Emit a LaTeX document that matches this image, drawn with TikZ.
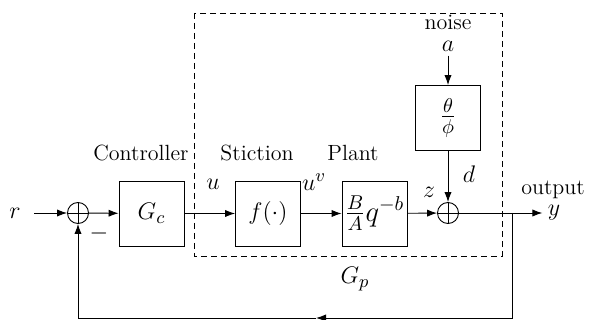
\documentclass[tikz,border=0pt]{standalone}
\usetikzlibrary{arrows.meta}
\begin{document}
\begin{tikzpicture}[x=0.5pt,y=-0.5pt,
  line width=0.45pt,
  arr/.style={-{Latex[length=5pt,width=3.6pt]}},
  blk/.style={draw, minimum width=32.5pt, minimum height=32.5pt, inner sep=0pt, font=\fontsize{12.5}{14}\selectfont},
  fblk/.style={blk, font=\fontsize{14}{16}\selectfont},
  sumnode/.style={circle, draw, minimum size=10.5pt, inner sep=0pt,
    path picture={\draw (path picture bounding box.north) -- (path picture bounding box.south)
      (path picture bounding box.west) -- (path picture bounding box.east);}},
  lbl/.style={inner sep=0pt, font=\fontsize{11}{13}\selectfont},
  mlbl/.style={inner sep=0pt, font=\fontsize{13}{15}\selectfont}]
\useasboundingbox (0,0) rectangle (594,320);
% dashed plant region
\draw[dashed, dash pattern=on 3pt off 2pt] (194,13) rectangle (502,256);
% nodes
\node[mlbl] (r) at (15,213) {$r$};
\node[sumnode] (s1) at (78,213) {};
\node[blk] (gc) at (151.5,213.5) {$G_c$};
\node[blk] (f) at (268,213.5) {$f(\cdot)$};
\node[fblk] (p) at (374.5,213.5) {$\frac{B}{A}q^{-b}$};
\node[sumnode] (s2) at (448,213) {};
\node[fblk] (n) at (448,118) {$\frac{\theta}{\phi}$};
\node[lbl] (noise) at (448,22) {noise};
\node[mlbl] (a) at (448,46) {$a$};
\node[mlbl] (y) at (554,213) {$y$};
\node[lbl] (outl) at (553,190) {output};
% labels
\node[lbl] (ctl) at (141,153) {Controller};
\node[lbl] (sti) at (257,153) {Stiction};
\node[lbl] (pla) at (353,153) {Plant};
\node[mlbl] (u) at (213,184) {$u$};
\node[mlbl] (uv) at (314,182) {$u^v$};
\node[mlbl] (z) at (429,192) {$z$};
\node[mlbl] (d) at (469,174) {$d$};
\node[mlbl] (minus) at (99,234) {$-$};
\node[mlbl] (gp) at (355,279) {$G_p$};
% connectors
\coordinate (br) at (512,213);
\coordinate (brb) at (512,318);
\coordinate (fbm) at (316,318);
\coordinate (blb) at (78,318);
\draw[arr] (r.east) ++(13,0) -- (s1.west);
\draw[arr] (s1) -- (gc);
\draw[arr] (gc) -- (f);
\draw[arr] (f) -- (p);
\draw[arr] (p) -- (s2);
\draw[arr] (a.south) ++(0,4) -- (n.north);
\draw[arr] (n) -- (s2);
\draw[arr, shorten >=2.5pt] (s2.east) -- (y.west);
\draw[arr] (br) -- (brb) -- (fbm);
\draw[arr] (fbm) -- (blb) -- (s1.south);
\end{tikzpicture}
\end{document}
